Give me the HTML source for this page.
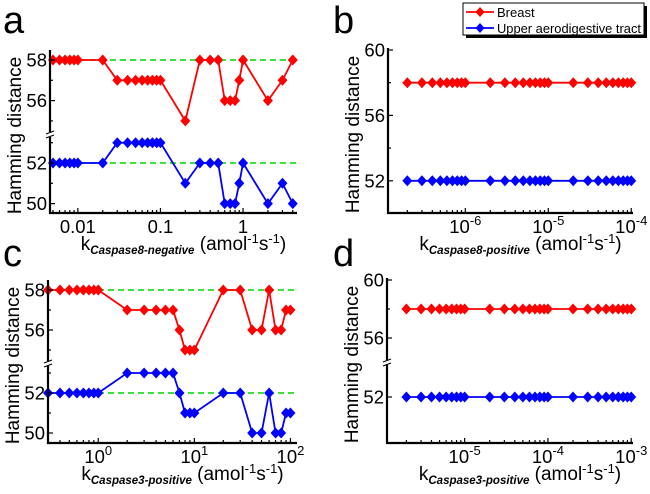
<!DOCTYPE html>
<html><head><meta charset="utf-8"><style>
body{margin:0;background:#fff;}
svg{display:block;font-family:"Liberation Sans",Arial,sans-serif;}
</style></head><body>
<svg id="fig" width="650" height="494" viewBox="0 0 650 494"></svg>
<script>
// ---- data ----
const aX = [0.005,0.006,0.007,0.008,0.009,0.01,0.02,0.03,0.04,0.05,0.06,0.07,0.08,0.09,0.1,0.2,0.3,0.4,0.5,0.6,0.7,0.8,0.9,1,2,3,4];
const aBreast = [58,58,58,58,58,58,58,57,57,57,57,57,57,57,57,55,58,58,58,56,56,56,57,58,56,57,58];
const aUpper  = [52,52,52,52,52,52,52,53,53,53,53,53,53,53,53,51,52,52,52,50,50,50,51,52,50,51,50];
const cX = [0.3,0.4,0.5,0.6,0.7,0.8,0.9,1,2,3,4,5,6,7,8,9,10,20,30,40,50,60,70,80,90,100];
const cBreast = [58,58,58,58,58,58,58,58,57,57,57,57,57,56,55,55,55,58,58,56,56,58,56,56,57,57];
const cUpper  = [52,52,52,52,52,52,52,52,53,53,53,53,53,52,51,51,51,52,52,50,50,52,50,50,51,51];
const bX = [2e-7,3e-7,4e-7,5e-7,6e-7,7e-7,8e-7,9e-7,1e-6,2e-6,3e-6,4e-6,5e-6,6e-6,7e-6,8e-6,9e-6,1e-5,2e-5,3e-5,4e-5,5e-5,6e-5,7e-5,8e-5,9e-5,1e-4];
const bBreast = [58,58,58,58,58,58,58,58,58,58,58,58,58,58,58,58,58,58,58,58,58,58,58,58,58,58,58];
const bUpper  = [52,52,52,52,52,52,52,52,52,52,52,52,52,52,52,52,52,52,52,52,52,52,52,52,52,52,52];
const dX = [2e-6,3e-6,4e-6,5e-6,6e-6,7e-6,8e-6,9e-6,1e-5,2e-5,3e-5,4e-5,5e-5,6e-5,7e-5,8e-5,9e-5,1e-4,2e-4,3e-4,4e-4,5e-4,6e-4,7e-4,8e-4,9e-4,1e-3];
const dBreast = [58,58,58,58,58,58,58,58,58,58,58,58,58,58,58,58,58,58,58,58,58,58,58,58,58,58,58];
const dUpper  = [52,52,52,52,52,52,52,52,52,52,52,52,52,52,52,52,52,52,52,52,52,52,52,52,52,52,52];
const aTicks = ["0.01","0.1","1"];
const cTicks = ["0","1","2"];
const bTicks = ["-6","-5","-4"];
const dTicks = ["-5","-4","-3"];
const refLines = [58,52];

const NS="http://www.w3.org/2000/svg";
const svg=document.getElementById('fig');
function el(tag,attrs,parent){const e=document.createElementNS(NS,tag);for(const k in attrs)e.setAttribute(k,attrs[k]);(parent||svg).appendChild(e);return e;}

function panel(o){
  const g=el('g',{});
  
  
  const lx=Math.log10(o.xmin), hx=Math.log10(o.xmax);
  const X=v=>o.x0+(Math.log10(v)-lx)/(hx-lx)*(o.x1-o.x0);
  const Y=o.Y;
  if(o.ref){refLines.forEach(r=>{const l=el('line',{x1:o.x0,x2:o.x1,y1:Y(r),y2:Y(r),stroke:'#22dd22','stroke-width':1.8,'stroke-dasharray':'6,4'},g);
    });}
  [[o.upper,'#0000ff','upper-aerodigestive-series'],[o.breast,'#ff0000','breast-series']].forEach(([ys,c,n])=>{
    const sg=el('g',{},g);
    el('polyline',{points:o.xs.map((x,i)=>X(x)+','+Y(ys[i])).join(' '),fill:'none',stroke:c,'stroke-width':1.8},sg);
    o.xs.forEach((x,i)=>{const cx=X(x),cy=Y(ys[i]);
      const m=el('polygon',{points:`${cx},${cy-5.5} ${cx+5},${cy} ${cx},${cy+5.5} ${cx-5},${cy}`,fill:c},sg);
      });
  });
  const ax=el('path',{d:`M${o.x0},${o.ytop} V${o.yb} H${o.x1}`,fill:'none',stroke:'#000','stroke-width':2.2},g);
  
  if(o.brk){el('rect',{x:o.x0-4,y:o.brk-3,width:8,height:5,fill:'#fff'},g);
    el('line',{x1:o.x0-4,y1:o.brk-1,x2:o.x0+4,y2:o.brk-4,stroke:'#000','stroke-width':1.2},g);
    el('line',{x1:o.x0-4,y1:o.brk+3,x2:o.x0+4,y2:o.brk,stroke:'#000','stroke-width':1.2},g);}
  o.yt.forEach(t=>{const y=Y(t.v);el('line',{x1:o.x0,x2:o.x0+(t.l?5:3),y1:y,y2:y,stroke:'#000','stroke-width':1.2},g);
    if(t.l){const tx=el('text',{x:o.x0-3,y:y+6.5,'text-anchor':'end','font-size':18.5},g);tx.textContent=t.v;
      }});
  for(let d=Math.floor(lx);d<=Math.ceil(hx);d++){for(let k=1;k<10;k++){const v=k*Math.pow(10,d);const lv=Math.log10(v);
    if(lv<lx-1e-9||lv>hx+1e-9)continue;const x=X(v);el('line',{x1:x,x2:x,y1:o.yb,y2:o.yb-(k==1?5:3),stroke:'#000','stroke-width':1.2},g);}}
  o.tickLabels.forEach((t,i)=>{const v=o.tickVals[i];const x=X(v);
    const tx=el('text',{x:x,y:o.yb+20,'text-anchor':'middle','font-size':18.5},g);
    
    if(o.pow){tx.innerHTML=`10<tspan dy="-8" font-size="13">${t}</tspan>`;}
    else tx.textContent=t;});
  const xt=el('text',{x:(o.x0+o.x1)/2+10,y:o.yb+37,'text-anchor':'middle','font-size':19},g);
  
  xt.innerHTML=`k<tspan dy="4" font-size="11.5" font-weight="bold" font-style="italic">${o.sub}</tspan><tspan dy="-4"> (amol</tspan><tspan dy="-7" font-size="13">-1</tspan><tspan dy="7">s</tspan><tspan dy="-7" font-size="13">-1</tspan><tspan dy="7">)</tspan>`;
  const yt=el('text',{transform:`translate(${o.x0-29},${(o.ytop+o.yb)/2+4}) rotate(-90)`,'text-anchor':'middle','font-size':19},g);
  yt.textContent='Hamming distance';
  const lt=el('text',{x:o.lx,y:o.ly,'font-size':38},g);lt.textContent=o.id;
  
}
function brokenY(top0,bot0,s){return v=>v>=54.5?top0+(58-v)*s:bot0+(52-v)*s;}

panel({id:'a',xs:aX,breast:aBreast,upper:aUpper,xmin:0.0046,xmax:4.5,x0:50,x1:297,ytop:50,yb:213,
  Y:brokenY(60,163,20.3),brk:135,ref:true,
  yt:[{v:58,l:1},{v:57},{v:56,l:1},{v:55},{v:53},{v:52,l:1},{v:51},{v:50,l:1}],
  tickLabels:aTicks,tickVals:[0.01,0.1,1],pow:false,sub:'Caspase8-negative',lx:3,ly:33});
panel({id:'c',xs:cX,breast:cBreast,upper:cUpper,xmin:0.3,xmax:117,x0:48,x1:297,ytop:280,yb:443,
  Y:brokenY(290,393,20),brk:364,ref:true,
  yt:[{v:58,l:1},{v:57},{v:56,l:1},{v:55},{v:53},{v:52,l:1},{v:51},{v:50,l:1}],
  tickLabels:cTicks,tickVals:[1,10,100],pow:true,sub:'Caspase3-positive',lx:3,ly:266});
panel({id:'b',xs:bX,breast:bBreast,upper:bUpper,xmin:1.17e-7,xmax:1.05e-4,x0:388,x1:633,ytop:48,yb:213,
  Y:v=>50+(60-v)*16.35,brk:0,ref:false,
  yt:[{v:60,l:1},{v:58},{v:56,l:1},{v:54},{v:52,l:1}],
  tickLabels:bTicks,tickVals:[1e-6,1e-5,1e-4],pow:true,sub:'Caspase8-positive',lx:333,ly:33});
panel({id:'d',xs:dX,breast:dBreast,upper:dUpper,xmin:1.17e-6,xmax:1.05e-3,x0:387,x1:633,ytop:278,yb:443,
  Y:v=>v>=55?280+(60-v)*14.5:397+(52-v)*14.5,brk:363,ref:false,
  yt:[{v:60,l:1},{v:58},{v:56,l:1},{v:52,l:1}],
  tickLabels:dTicks,tickVals:[1e-5,1e-4,1e-3],pow:true,sub:'Caspase3-positive',lx:333,ly:266});

const lg=el('g',{});


el('rect',{x:466,y:6,width:181,height:32,fill:'#000'},lg);
el('rect',{x:463,y:3,width:181,height:32,fill:'#fff',stroke:'#000','stroke-width':1},lg);
[['Breast','#ff0000',12],['Upper aerodigestive tract','#0000ff',28]].forEach(([t,c,y])=>{
  const e=el('g',{},lg);
  
  
  el('line',{x1:466,x2:494,y1:y,y2:y,stroke:c,'stroke-width':1.8},e);
  el('polygon',{points:`480,${y-5} 484.5,${y} 480,${y+5} 475.5,${y}`,fill:c},e);
  const tx=el('text',{x:497,y:y+5,'font-size':13,textLength:144,lengthAdjust:'spacingAndGlyphs'},e);tx.textContent=t;
  if(t==='Breast'){tx.removeAttribute('textLength');tx.removeAttribute('lengthAdjust');}
});
</script>
</body></html>
